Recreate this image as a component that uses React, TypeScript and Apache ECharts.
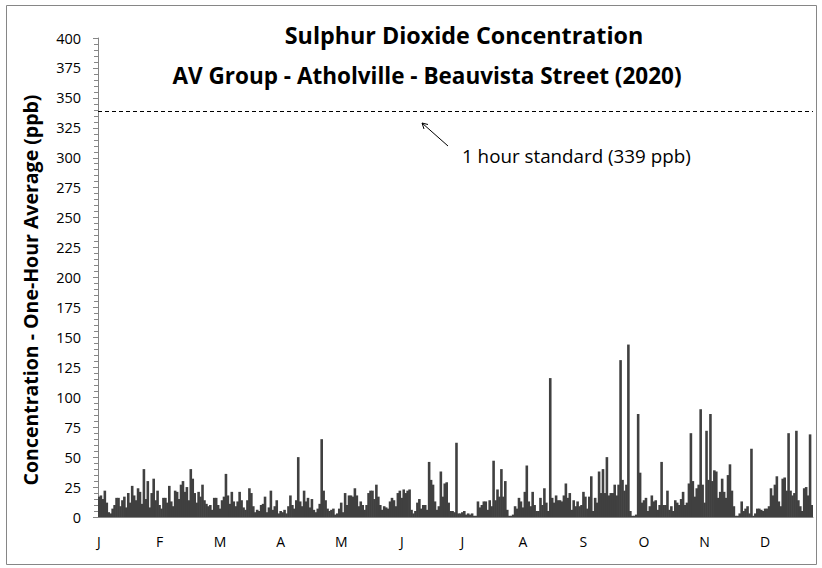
import React, { useEffect, useRef } from "react";
import * as echarts from "echarts";

// ---- data ----
const chartTitle = "Sulphur Dioxide Concentration";
const chartSubtitle = "AV Group - Atholville - Beauvista Street (2020)";
const yAxisTitle = "Concentration - One-Hour Average (ppb)";
const standardLabel = "1 hour standard (339 ppb)";
const standardValue = 339;

const monthLetters = ["J", "F", "M", "A", "M", "J", "J", "A", "S", "O", "N", "D"];
const monthLengths = [31, 29, 31, 30, 31, 30, 31, 31, 30, 31, 30, 31];
const labelEveryDays = 31;

const yMin = 0;
const yMax = 400;
const yInterval = 25;

// Daily peak one-hour SO2 (ppb), 2020 (366 days)
const dailyPeak = [
  17, 18, 15, 22, 12, 4, 3, 7, 10, 16,
  16, 9, 14, 17, 8, 20, 12, 26, 18, 14,
  24, 21, 11, 40, 15, 30, 8, 20, 32, 14,
  22, 10, 7, 16, 16, 12, 26, 13, 9, 22,
  21, 15, 27, 30, 21, 25, 14, 40, 32, 20,
  12, 21, 17, 27, 14, 11, 9, 10, 6, 16,
  16, 10, 7, 14, 17, 36, 18, 11, 21, 13,
  9, 13, 21, 14, 8, 6, 14, 24, 20, 9,
  4, 6, 5, 10, 11, 17, 4, 8, 22, 6,
  9, 14, 3, 5, 4, 6, 3, 9, 18, 10,
  7, 14, 50, 13, 9, 22, 13, 16, 8, 15,
  6, 4, 7, 11, 65, 22, 14, 7, 5, 6,
  7, 2, 3, 7, 12, 4, 20, 10, 18, 18,
  17, 24, 18, 9, 13, 10, 6, 10, 20, 22,
  22, 15, 27, 17, 10, 6, 9, 8, 7, 13,
  16, 14, 9, 20, 22, 16, 23, 20, 22, 23,
  6, 3, 5, 12, 15, 7, 10, 10, 6, 46,
  31, 27, 13, 6, 9, 38, 17, 28, 29, 12,
  5, 5, 4, 62, 3, 3, 4, 5, 2, 3,
  2, 3, 1, 1, 13, 8, 10, 13, 13, 6,
  14, 9, 47, 14, 23, 17, 40, 17, 30, 6,
  1, 1, 2, 9, 7, 16, 13, 8, 21, 43,
  13, 9, 21, 10, 5, 5, 16, 10, 24, 12,
  5, 116, 16, 12, 18, 14, 14, 13, 18, 28,
  16, 20, 6, 14, 9, 13, 9, 10, 21, 17,
  7, 17, 34, 5, 16, 12, 38, 20, 40, 20,
  50, 18, 20, 20, 27, 18, 27, 131, 31, 22,
  27, 144, 5, 1, 1, 2, 86, 37, 12, 14,
  16, 5, 9, 18, 13, 14, 6, 10, 46, 10,
  10, 22, 6, 9, 5, 14, 12, 10, 15, 21,
  10, 12, 28, 70, 30, 17, 24, 27, 90, 27,
  12, 72, 31, 86, 30, 39, 38, 16, 21, 32,
  21, 16, 35, 44, 22, 9, 1, 1, 3, 13,
  5, 7, 9, 3, 57, 1, 3, 7, 7, 6,
  5, 7, 7, 9, 24, 18, 27, 34, 13, 9,
  32, 33, 22, 70, 22, 18, 20, 72, 14, 9,
  5, 24, 25, 18, 69, 10,
];

const dayIndex = dailyPeak.map((_, i) => String(i));

function monthLetterOfDay(day: number): string {
  let acc = 0;
  for (let m = 0; m < monthLengths.length; m++) {
    acc += monthLengths[m];
    if (day < acc) return monthLetters[m];
  }
  return monthLetters[monthLetters.length - 1];
}

const FONT = "'Open Sans', 'Noto Sans', sans-serif";

export default function App() {
  const ref = useRef<HTMLDivElement>(null);

  useEffect(() => {
    if (!ref.current) return;
    const chart = echarts.init(ref.current, undefined, { renderer: "svg" });
    const option: any = {
      animation: false,
      backgroundColor: "#ffffff",
      grid: { left: 98, right: 9, top: 38, bottom: 51, containLabel: false },
      xAxis: {
        type: "category",
        data: dayIndex,
        boundaryGap: true,
        axisLine: { show: true, lineStyle: { color: "#868686", width: 1 } },
        axisTick: { show: false },
        axisLabel: {
          interval: labelEveryDays - 1,
          formatter: (v: string) => monthLetterOfDay(Number(v)),
          color: "#000",
          fontFamily: FONT,
          fontSize: 14,
          margin: 17,
        },
        splitLine: { show: false },
      },
      yAxis: {
        type: "value",
        min: yMin,
        max: yMax,
        interval: yInterval,
        axisLine: { show: true, lineStyle: { color: "#868686", width: 1 } },
        axisTick: { show: true, inside: false, length: 5, lineStyle: { color: "#868686" } },
        minorTick: { show: true, splitNumber: 5, length: 4, lineStyle: { color: "#868686" } },
        axisLabel: {
          color: "#000",
          fontFamily: FONT,
          fontSize: 14.5,
          margin: 17,
        },
        splitLine: { show: false },
      },
      series: [
        {
          type: "bar",
          data: dailyPeak,
          barWidth: 2.6,
          itemStyle: { color: "#404040" },
          silent: true,
          markLine: {
            silent: true,
            symbol: ["none", "none"],
            label: { show: false },
            lineStyle: { type: [4, 3], color: "#000", width: 1 },
            data: [{ yAxis: standardValue }],
          },
        },
      ],
      graphic: [
        {
          type: "rect",
          shape: { x: 6.5, y: 5.5, width: 810, height: 559 },
          style: { fill: "none", stroke: "#868686", lineWidth: 1 },
          silent: true,
        },
        {
          type: "text",
          x: 464,
          y: 35,
          style: {
            text: chartTitle,
            font: `bold 23.3px ${FONT}`,
            fill: "#000",
            align: "center",
            verticalAlign: "middle",
          },
        },
        {
          type: "text",
          x: 427,
          y: 75,
          style: {
            text: chartSubtitle,
            font: `bold 22.5px ${FONT}`,
            fill: "#000",
            align: "center",
            verticalAlign: "middle",
          },
        },
        {
          type: "text",
          x: 30,
          y: 290,
          rotation: Math.PI / 2,
          style: {
            text: yAxisTitle,
            font: `bold 19.5px ${FONT}`,
            fill: "#000",
            align: "center",
            verticalAlign: "middle",
          },
        },
        {
          type: "text",
          x: 462,
          y: 156,
          style: {
            text: standardLabel,
            font: `18.8px ${FONT}`,
            fill: "#000",
            align: "left",
            verticalAlign: "middle",
          },
        },
        {
          type: "line",
          shape: { x1: 448, y1: 146, x2: 422, y2: 123 },
          style: { stroke: "#000", lineWidth: 1 },
        },
        {
          type: "polyline",
          shape: { points: [[428, 124.5], [422, 123], [424, 129]] },
          style: { stroke: "#000", lineWidth: 1, fill: "none" },
        },
      ],
    };
    chart.setOption(option);
    return () => chart.dispose();
  }, []);

  return (
    <div
      ref={ref}
      style={{ position: "fixed", left: 0, top: 0, width: 822, height: 568, background: "#fff" }}
    />
  );
}
